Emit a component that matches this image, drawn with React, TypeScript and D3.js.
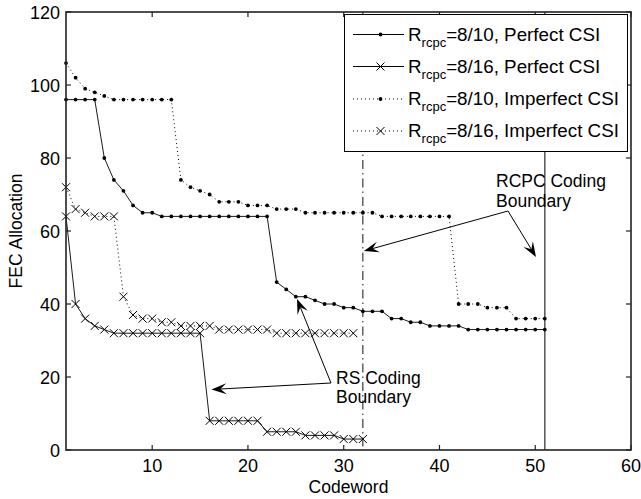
import React from "react";
import * as d3 from "d3";

// ---- data ----
const perfect810: number[] = [
  96, 96, 96, 96, 80, 74, 71, 67, 65, 65,
  64, 64, 64, 64, 64, 64, 64, 64, 64, 64, 64, 64,
  46, 44, 42, 42, 41, 40, 40, 39, 39, 38, 38, 38, 36, 36, 35, 35, 34, 34, 34, 34,
  33, 33, 33, 33, 33, 33, 33, 33, 33,
];
const perfect816: number[] = [
  64, 40, 36, 34, 33,
  32, 32, 32, 32, 32, 32, 32, 32, 32, 32,
  8, 8, 8, 8, 8, 8,
  5, 5, 5, 5,
  4, 4, 4, 4,
  3, 3, 3,
];
const imperfect810: number[] = [
  106, 102, 99, 98, 97,
  96, 96, 96, 96, 96, 96, 96,
  74, 72, 71, 70,
  68, 68, 68,
  67, 67, 67,
  66, 66, 66,
  65, 65, 65, 65, 65, 65, 65, 65,
  64, 64, 64, 64, 64, 64, 64, 64,
  40, 40, 40,
  39, 39, 39,
  36, 36, 36, 36,
];
const imperfect816: number[] = [
  72, 66, 65, 64, 64, 64,
  42, 37, 36, 36, 35, 35,
  34, 34, 34, 34,
  33, 33, 33, 33, 33, 33,
  32, 32, 32, 32, 32, 32, 32, 32, 32,
];
const seriesRates = ["8/10", "8/16", "8/10", "8/16"];
const seriesCsi = ["Perfect", "Perfect", "Imperfect", "Imperfect"];
const xTicks = [10, 20, 30, 40, 50, 60];
const yTicks = [0, 20, 40, 60, 80, 100, 120];
const rsBoundary = 32;
const rcpcBoundary = 51;
const xLabel = "Codeword";
const yLabel = "FEC Allocation";

// ---- layout ----
const W = 641;
const H = 499;
const L = 66, R = 631, T = 12, B = 450;
const x = d3.scaleLinear().domain([1, 60]).range([L, R]);
const y = d3.scaleLinear().domain([0, 120]).range([B, T]);
const FONT = "'Liberation Sans', Arial, Helvetica, sans-serif";

type S = { data: number[]; dotted: boolean; marker: "dot" | "x" };
const series: S[] = [
  { data: perfect810, dotted: false, marker: "dot" },
  { data: perfect816, dotted: false, marker: "x" },
  { data: imperfect810, dotted: true, marker: "dot" },
  { data: imperfect816, dotted: true, marker: "x" },
];

const lineGen = d3
  .line<number>()
  .x((_, i) => x(i + 1))
  .y((d) => y(d));

function Marker({ kind, cx, cy }: { kind: "dot" | "x"; cx: number; cy: number }) {
  if (kind === "dot") return <circle cx={cx} cy={cy} r={1.9} fill="#000" />;
  const s = 4;
  return (
    <path
      d={`M${cx - s},${cy - s}L${cx + s},${cy + s}M${cx - s},${cy + s}L${cx + s},${cy - s}`}
      stroke="#000"
      strokeWidth={1}
      fill="none"
    />
  );
}

function Arrow({ x1, y1, x2, y2 }: { x1: number; y1: number; x2: number; y2: number }) {
  const ang = Math.atan2(y2 - y1, x2 - x1);
  const len = 15, half = 5.5, notch = 9;
  const c = Math.cos(ang), s = Math.sin(ang);
  const p = (a: number, b: number) => [x2 + a * c - b * s, y2 + a * s + b * c];
  const back1 = p(-len, half);
  const back2 = p(-len, -half);
  const nt = p(-notch, 0);
  return (
    <g>
      <line x1={x1} y1={y1} x2={nt[0]} y2={nt[1]} stroke="#000" strokeWidth={1} />
      <path
        d={`M${x2},${y2}L${back1[0]},${back1[1]}L${nt[0]},${nt[1]}L${back2[0]},${back2[1]}Z`}
        fill="#000"
      />
    </g>
  );
}

export default function App() {
  const tickLen = 5;
  const legendRows = [34.5, 66.5, 99, 131];
  return (
    <svg
      width={W}
      height={H}
      style={{ position: "absolute", left: 0, top: 0, background: "#fff" }}
      fontFamily={FONT}
    >
      <rect x={0} y={0} width={W} height={H} fill="#fff" />
      {/* boundaries */}
      <line
        x1={x(rsBoundary)}
        x2={x(rsBoundary)}
        y1={y(120)}
        y2={y(0)}
        stroke="#111"
        strokeWidth={1}
        strokeDasharray="9,4,1.5,4"
      />
      <line x1={x(rcpcBoundary)} x2={x(rcpcBoundary)} y1={y(120)} y2={y(0)} stroke="#555" strokeWidth={1.5} />

      {/* series */}
      {series.map((s, k) => (
        <g key={k}>
          <path
            d={lineGen(s.data) || ""}
            fill="none"
            stroke="#000"
            strokeWidth={s.dotted ? 1 : 0.9}
            strokeDasharray={s.dotted ? "1,3" : undefined}
          />
          {s.data.map((v, i) => (
            <Marker key={i} kind={s.marker} cx={x(i + 1)} cy={y(v)} />
          ))}
        </g>
      ))}

      {/* axes box */}
      <rect x={L} y={T} width={R - L} height={B - T} fill="none" stroke="#222" strokeWidth={1.6} />
      {xTicks.map((t) => (
        <g key={"xt" + t}>
          <line x1={x(t)} x2={x(t)} y1={B} y2={B - tickLen} stroke="#222" strokeWidth={1.2} />
          <line x1={x(t)} x2={x(t)} y1={T} y2={T + tickLen} stroke="#222" strokeWidth={1.2} />
          <text x={x(t)} y={472} textAnchor="middle" fontSize={18} fill="#000">
            {t}
          </text>
        </g>
      ))}
      {yTicks.map((t) => (
        <g key={"yt" + t}>
          <line x1={L} x2={L + tickLen} y1={y(t)} y2={y(t)} stroke="#222" strokeWidth={1.2} />
          <line x1={R} x2={R - tickLen} y1={y(t)} y2={y(t)} stroke="#222" strokeWidth={1.2} />
          <text x={60} y={y(t) + 6.5} textAnchor="end" fontSize={18} fill="#000">
            {t}
          </text>
        </g>
      ))}
      <text x={(L + R) / 2} y={493} textAnchor="middle" fontSize={17.5} fill="#000">
        {xLabel}
      </text>
      <text
        transform={`translate(${22},${(T + B) / 2}) rotate(-90)`}
        textAnchor="middle"
        fontSize={17.5}
        fill="#000"
      >
        {yLabel}
      </text>

      {/* legend */}
      <rect x={344.5} y={14.5} width={283} height={137} fill="#fff" stroke="#000" strokeWidth={1} />
      {series.map((s, k) => (
        <g key={"lg" + k}>
          <line
            x1={353}
            x2={404}
            y1={legendRows[k]}
            y2={legendRows[k]}
            stroke="#000"
            strokeWidth={1}
            strokeDasharray={s.dotted ? "1,3" : undefined}
          />
          <Marker kind={s.marker} cx={380.5} cy={legendRows[k]} />
          <text x={408} y={legendRows[k] + 6} fontSize={18.8} fill="#000">
            R
            <tspan fontSize={13} dy={6}>
              rcpc
            </tspan>
            <tspan fontSize={18.8} dy={-6}>
              ={seriesRates[k]}, {seriesCsi[k]} CSI
            </tspan>
          </text>
        </g>
      ))}

      {/* annotations */}
      <Arrow x1={508} y1={211} x2={x(rsBoundary) + 1} y2={251} />
      <Arrow x1={508} y1={211} x2={536} y2={257} />
      <text x={496} y={187} fontSize={17.5} fill="#000">
        RCPC Coding
      </text>
      <text x={496} y={207} fontSize={17.5} fill="#000">
        Boundary
      </text>
      <Arrow x1={331} y1={383} x2={297} y2={299} />
      <Arrow x1={331} y1={383} x2={211.5} y2={389.5} />
      <text x={336} y={383.5} fontSize={17.5} fill="#000">
        RS Coding
      </text>
      <text x={336} y={403} fontSize={17.5} fill="#000">
        Boundary
      </text>
    </svg>
  );
}
